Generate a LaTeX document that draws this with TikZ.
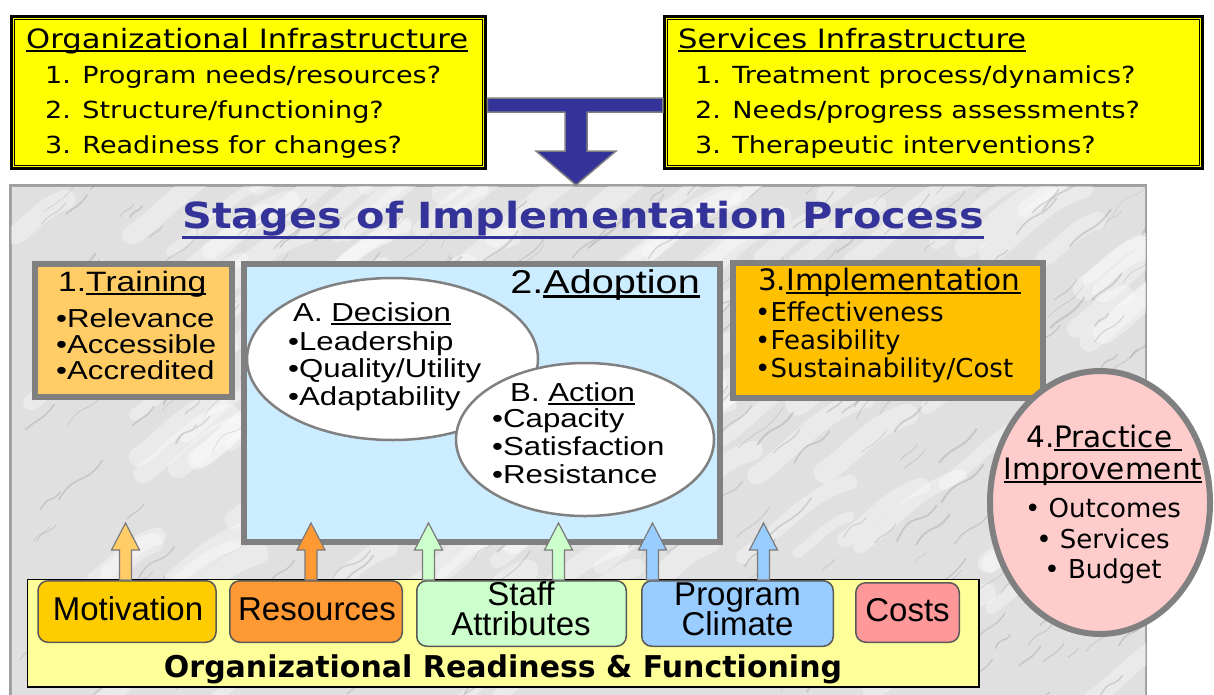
\documentclass[tikz,border=0pt]{standalone}
\usepackage{fontspec}
\setmainfont{Liberation Sans}
\newfontfamily\verdfont{DejaVu Sans}
\newfontfamily\tahomafont{DejaVu Sans}[FakeStretch=1.15]
\newfontfamily\arialwide{Liberation Sans}[FakeStretch=1.2]
\usetikzlibrary{shapes}
\usetikzlibrary{positioning}
\usetikzlibrary{calc}

\definecolor{topyellow}{HTML}{FFFF00}
\definecolor{stagenavy}{HTML}{333399}
\definecolor{boxgray}{HTML}{808080}
\definecolor{trainfill}{HTML}{FFCC66}
\definecolor{adoptfill}{HTML}{CCECFF}
\definecolor{implfill}{HTML}{FFC000}
\definecolor{practicefill}{HTML}{FFCCCC}
\definecolor{readyfill}{HTML}{FFFF99}
\definecolor{motivfill}{HTML}{FFCC00}
\definecolor{motivarrow}{HTML}{FFCC66}
\definecolor{resfill}{HTML}{FF9933}
\definecolor{stafffill}{HTML}{CCFFCC}
\definecolor{progfill}{HTML}{99CCFF}
\definecolor{costfill}{HTML}{FF9999}
\definecolor{factorgray}{HTML}{595959}
\definecolor{marblebase}{HTML}{E0E0E0}
\definecolor{veingray}{HTML}{7A7A7A}

\newcommand{\ulbar}[2][0.14em]{\setbox0\hbox{#2}\rlap{\rule[-#1]{\wd0}{0.075em}}\box0}

\tikzset{
  infobox/.style={draw=black, line width=3.5pt, fill=topyellow, inner sep=0, outer sep=1.75pt,
    anchor=north west},
  toptitle/.style={font=\tahomafont\fontsize{26.6}{30}\selectfont, inner sep=0, anchor=base west},
  topline/.style={font=\tahomafont\fontsize{23.5}{26}\selectfont, inner sep=0, anchor=base west},
  stagebox/.style={draw=boxgray, line width=6pt, inner sep=0, anchor=north west},
  bubble/.style={ellipse, draw=boxgray, line width=2.5pt, fill=white, inner sep=0},
  arialtitle/.style={font=\arialwide\fontsize{28}{30}\selectfont, inner sep=0},
  arialitem/.style={font=\arialwide\fontsize{26}{28}\selectfont, inner sep=0, anchor=base west},
  verdtitle/.style={font=\verdfont\fontsize{29.5}{32}\selectfont, inner sep=0},
  verditem/.style={font=\verdfont\fontsize{26}{28}\selectfont, inner sep=0},
  factor/.style={draw=factorgray, line width=1.5pt, rounded corners=10pt, inner sep=0},
  factortext/.style={font=\fontsize{33}{36}\selectfont, inner sep=0, anchor=base},
  factorarrow/.style={draw=factorgray!80, line width=1.2pt, line join=miter}
}

\begin{document}
\begin{tikzpicture}[x=1pt, y=-1pt]
\useasboundingbox (0,0) rectangle (1214,694);

\node[infobox, minimum width=474pt, minimum height=152pt] (org_infra) at (9.75,14.75) {};
\node[infobox, minimum width=538pt, minimum height=152pt] (serv_infra) at (662.75,14.75) {};
\draw[line width=1pt] ($(org_infra.north west)+(5,5)$) rectangle ($(org_infra.south east)+(-5,-5)$);
\draw[line width=1pt] ($(serv_infra.north west)+(5,5)$) rectangle ($(serv_infra.south east)+(-5,-5)$);
\node[toptitle] (org_title) at (26,48) {\ulbar{Organizational Infrastructure}};
\node[topline] (org_q1) at (45,83) {1. Program needs/resources?};
\node[topline] (org_q2) at (45,118) {2. Structure/functioning?};
\node[topline] (org_q3) at (45,153) {3. Readiness for changes?};
\node[toptitle] (serv_title) at (678,48) {\ulbar{Services Infrastructure}};
\node[topline] (serv_q1) at (695,83) {1. Treatment process/dynamics?};
\node[topline] (serv_q2) at (695,118) {2. Needs/progress assessments?};
\node[topline] (serv_q3) at (695,153) {3. Therapeutic interventions?};

\node[draw=gray!70, line width=1.5pt, fill=marblebase, inner sep=0, anchor=north west,
  minimum width=1135pt, minimum height=520pt] (stages_bg) at (10,185) {};
\begin{scope}
  \clip (stages_bg.south west) rectangle (stages_bg.north east);
  \pgfmathsetseed{2024}
  \foreach \k in {1,...,150}{
    \pgfmathsetmacro{\vx}{10+1135*rnd}
    \pgfmathsetmacro{\vy}{185+520*rnd}
    \pgfmathsetmacro{\vl}{40+80*rnd}
    \pgfmathsetmacro{\vw}{10+14*rnd}
    \draw[white, line width=\vw pt, line cap=round, opacity=0.35]
      (\vx,\vy) .. controls ({\vx+0.3*\vl},{\vy-0.2*\vl}) and ({\vx+0.6*\vl},{\vy-0.6*\vl}) .. ({\vx+\vl},{\vy-0.7*\vl});
  }
  \foreach \k in {1,...,320}{
    \pgfmathsetmacro{\vx}{10+1135*rnd}
    \pgfmathsetmacro{\vy}{185+520*rnd}
    \pgfmathsetmacro{\vl}{10+35*rnd}
    \pgfmathsetmacro{\vw}{0.4+1.6*rnd}
    \pgfmathsetmacro{\vb}{0.3+0.6*rnd}
    \draw[veingray, line width=\vw pt, line cap=round, opacity=0.25]
      (\vx,\vy) .. controls ({\vx+0.4*\vl},{\vy-\vb*\vl}) and ({\vx+0.6*\vl},{\vy-0.3*\vl}) .. ({\vx+\vl},{\vy-0.9*\vl});
  }
\end{scope}
\draw[gray!75, line width=1.5pt] (stages_bg.north west) rectangle (stages_bg.south east);

\coordinate (t_join) at (576,105);
\filldraw[fill=stagenavy, draw=gray, line width=1.5pt]
  let \p1=(org_infra.east |- t_join), \p2=(serv_infra.west |- t_join), \p3=(t_join |- stages_bg.north) in
  (\x1,\y1+7pt) -- (\x2,\y2+7pt) -- (\x2,\y2-7pt) -- (\x3+11pt,\y2-7pt) -- (\x3+11pt,\y3+34pt)
  -- (\x3+40pt,\y3+34pt) -- (\x3,\y3) -- (\x3-40pt,\y3+34pt) -- (\x3-11pt,\y3+34pt)
  -- (\x3-11pt,\y1-7pt) -- (\x1,\y1-7pt) -- cycle;

\node[anchor=base, font=\tahomafont\bfseries\fontsize{36}{40}\selectfont, text=stagenavy, inner sep=0]
  (stages_title) at (583,228) {\ulbar[0.3em]{Stages of Implementation Process}};

\node[stagebox, fill=trainfill, minimum width=197pt, minimum height=133pt] (training) at (32,261) {};
\node[arialtitle, anchor=base west] (train_title) at (58,291) {1.\ulbar{Training}};
\foreach \txt [count=\i from 0] in {Relevance,Accessible,Accredited}
  \node[arialitem] (train_item\i) at (56,{327+26*\i}) {•\txt};

\node[stagebox, fill=adoptfill, minimum width=476pt, minimum height=278pt] (adoption) at (241,261) {};
\node[font=\arialwide\fontsize{33}{36}\selectfont, inner sep=0, anchor=base east] (adopt_title) at (700,293) {2.\ulbar{Adoption}};
\node[bubble, minimum width=291pt, minimum height=162pt] (decision) at (392.5,359) {};
\node[arialitem] (decision_title) at (293,321) {A. \ulbar{Decision}};
\foreach \txt [count=\i from 0] in {Leadership,{Quality/Utility},Adaptability}
  \node[arialitem] (decision_item\i) at (288,{350+27.5*\i}) {•\txt};
\node[bubble, minimum width=258pt, minimum height=153pt] (action) at (585,439.5) {};
\node[arialitem] (action_title) at (510,401) {B. \ulbar{Action}};
\foreach \txt [count=\i from 0] in {Capacity,Satisfaction,Resistance}
  \node[arialitem] (action_item\i) at (492,{427+28*\i}) {•\txt};

\node[stagebox, fill=implfill, minimum width=310pt, minimum height=135pt] (implementation) at (730,260) {};
\node[verdtitle, anchor=base west] (impl_title) at (758,290) {3.\ulbar{Implementation}};
\foreach \txt [count=\i from 0] in {Effectiveness,Feasibility,{Sustainability/Cost}}
  \node[verditem, anchor=base west] (impl_item\i) at (755,{321+28*\i}) {•\txt};

\node[ellipse, draw=boxgray, line width=6pt, fill=practicefill, inner sep=0,
  minimum width=220pt, minimum height=263pt] (practice) at (1100,502.5) {};
\node[verdtitle, anchor=base] (practice_title) at (1104,447) {4.\ulbar{Practice\ }};
\node[verdtitle, anchor=base] (practice_title2) at (1103,479) {\ulbar{Improvement}};
\foreach \txt/\yy in {Outcomes/517,Services/548,Budget/578}
  \node[verditem, anchor=base] (practice_\txt) at (1103,\yy) {• \txt};

\node[draw=black, line width=1.5pt, fill=readyfill, inner sep=0, anchor=north west,
  minimum width=951.5pt, minimum height=107.5pt] (readiness) at (26.75,578.75) {};
\node[font=\verdfont\bfseries\fontsize{30}{32}\selectfont, inner sep=0, anchor=base] (readiness_title) at (503,677) {Organizational Readiness \& Functioning};

\node[factor, fill=motivfill, minimum width=178pt, minimum height=61.5pt] (motivation) at (127,611.5) {};
\node[factor, fill=resfill, minimum width=172.5pt, minimum height=61.5pt] (resources) at (316,611.5) {};
\node[factor, fill=stafffill, minimum width=209.5pt, minimum height=65.5pt] (staff) at (521.5,613.5) {};
\node[factor, fill=progfill, minimum width=191.5pt, minimum height=65.5pt] (program) at (737.5,613.5) {};
\node[factor, fill=costfill, minimum width=103.5pt, minimum height=59.5pt] (costs) at (907.5,612.5) {};
\node[factortext] (motivation_text) at (128,620) {Motivation};
\node[factortext] (resources_text) at (317,620) {Resources};
\node[factortext] (staff_text) at (521,605) {Staff};
\node[factortext] (staff_text2) at (521,635) {Attributes};
\node[factortext] (program_text) at (737.5,605) {Program};
\node[factortext] (program_text2) at (737.5,635) {Climate};
\node[factortext] (costs_text) at (907.5,621) {Costs};

\coordinate (arrow_top) at (0,523);
\foreach \src/\dx/\col in {motivation/-1.5/motivarrow, resources/-5/resfill, staff/-93/stafffill,
    staff/37/stafffill, program/-85/progfill, program/26/progfill}
  \filldraw[factorarrow, fill=\col] let \p1=($(\src.north)+(\dx,0)$), \p2=(arrow_top) in
    (\x1-6pt,\y1) -- (\x1-6pt,\y2-27pt) -- (\x1-14pt,\y2-27pt) -- (\x1,\y2)
    -- (\x1+14pt,\y2-27pt) -- (\x1+6pt,\y2-27pt) -- (\x1+6pt,\y1) -- cycle;
\end{tikzpicture}
\end{document}
